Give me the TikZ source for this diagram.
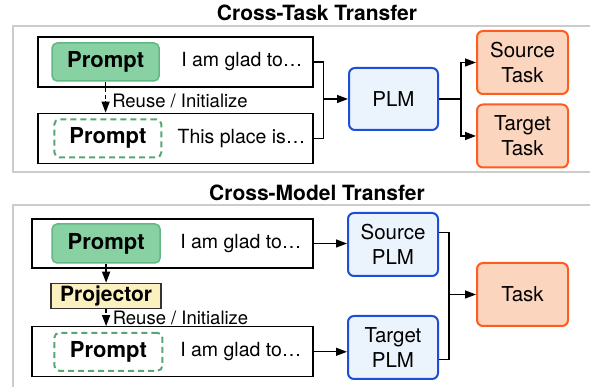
\documentclass[tikz,border=0pt]{standalone}
\usepackage{fontspec}
\setmainfont{TeX Gyre Heros}
\usepackage{xcolor}
\usetikzlibrary{positioning,arrows.meta}

\definecolor{promptfill}{HTML}{88D1A3}
\definecolor{promptdraw}{HTML}{62B883}
\definecolor{plmfill}{HTML}{EBF3FC}
\definecolor{plmdraw}{HTML}{1D4ED8}
\definecolor{taskfill}{HTML}{FCD5BE}
\definecolor{taskdraw}{HTML}{FF5C1F}
\definecolor{projfill}{HTML}{FBF0C0}
\definecolor{panelgray}{HTML}{CCCCCC}

\begin{document}
\begin{tikzpicture}[
  x=1pt, y=1pt,
  panel/.style={draw=panelgray, line width=1.2pt},
  title/.style={anchor=base, font=\fontsize{21}{24}\selectfont\bfseries},
  inbox/.style={draw, line width=1.3pt, minimum width=275pt, minimum height=50pt},
  prompt/.style={draw=promptdraw, fill=promptfill, line width=1.5pt, rounded corners=5pt,
    minimum width=107pt, minimum height=38pt, inner sep=0pt, font=\fontsize{22}{24}\selectfont\bfseries},
  newprompt/.style={prompt, fill=white, draw=promptdraw!90!black, line width=2pt, dash pattern=on 6pt off 4pt},
  sent/.style={inner sep=0pt, font=\fontsize{19.5}{22}\selectfont},
  plmbox/.style={draw=plmdraw, fill=plmfill, line width=2pt, rounded corners=6pt, align=center,
    minimum width=90pt, minimum height=63pt, inner sep=0pt, font=\fontsize{20.5}{25}\selectfont},
  taskbox/.style={plmbox, draw=taskdraw, fill=taskfill, minimum width=91pt},
  projbox/.style={draw=black!80, fill=projfill, line width=1.3pt, minimum width=110pt,
    minimum height=25pt, inner sep=0pt, font=\fontsize{21}{24}\selectfont\bfseries},
  line/.style={line width=1.3pt},
  arrow/.style={line, -{Triangle[length=11pt,width=8pt]}},
  dasharrow/.style={arrow, dash pattern=on 4pt off 2.5pt},
  reuse/.style={inner sep=0pt, font=\fontsize{18.5}{22}\selectfont}
]
\useasboundingbox (0,0) rectangle (590,387);

% panels
\draw[panel] (600,215) -- (13,215) -- (13,361) -- (600,361);
\draw[panel] (600,182) -- (13,182) -- (13,-20);
\node[title] (ttask) at (317,366) {Cross-Task Transfer};
\node[title] (tmodel) at (317,186) {Cross-Model Transfer};

% cross-task
\node[inbox] (in1) at (175.5,325) {};
\node[inbox, below=25pt of in1] (in2) {};
\node[prompt, right=14pt of in1.west] (pr1) {Prompt};
\node[newprompt, right=16pt of in2.west] (pr2) {Prompt};
\node[sent, left=11pt of in1.east] (tx1) {I am glad to…};
\node[sent, left=8pt of in2.east] (tx2) {This place is…};
\node[plmbox, minimum width=89pt, minimum height=62pt] (plm) at (393.5,288) {PLM};
\node[taskbox] (src) at (522.5,324.5) {Source\\Task};
\node[taskbox] (tgt) at (522.5,251) {Target\\Task};

\draw[dasharrow] (pr1) -- (pr1 |- in2.north) node[pos=.62, right=6pt, reuse] {Reuse / Initialize};
\coordinate (jn1) at ([xshift=10pt]in1.east |- plm.west);
\draw[line] (in1.east) -| (jn1);
\draw[line] (in2.east) -| (jn1);
\draw[arrow] (jn1) -- (plm);
\coordinate (jn2) at ([xshift=22pt]plm.east);
\draw[line] (plm.east) -- (jn2);
\draw[arrow] (jn2) |- (src);
\draw[arrow] (jn2) |- (tgt);

% cross-model
\node[inbox, minimum width=281pt, minimum height=49pt] (in3) at (172.5,143.5) {};
\node[inbox, minimum width=281pt, below=57.5pt of in3] (in4) {};
\node[prompt, minimum width=108pt, minimum height=39pt, right=20pt of in3.west] (pr3) {Prompt};
\node[newprompt, minimum width=108pt, right=22pt of in4.west] (pr4) {Prompt};
\node[sent, left=12pt of in3.east] (tx3) {I am glad to…};
\node[sent, left=12pt of in4.east] (tx4) {I am glad to…};
\node[projbox, below=19pt of pr3] (proj) {Projector};
\node[plmbox] (splm) at (393,142.5) {Source\\PLM};
\node[plmbox] (tplm) at (393,39.5) {Target\\PLM};
\node[taskbox] (task) at (522.5,92.5) {Task};

\draw[arrow] (pr3) -- (proj);
\draw[dasharrow] (proj) -- (proj |- in4.north) node[midway, right=6pt, reuse] {Reuse / Initialize};
\draw[arrow] (in3.east) -- (in3.east -| splm.west);
\draw[arrow] (in4.east) -- (in4.east -| tplm.west);
\coordinate (jn3) at ([xshift=10pt]splm.east |- task.west);
\draw[line] ([yshift=12pt]splm.east) -| (jn3);
\draw[line] ([yshift=-12pt]tplm.east) -| (jn3);
\draw[arrow] (jn3) -- (task);

\end{tikzpicture}
\end{document}
